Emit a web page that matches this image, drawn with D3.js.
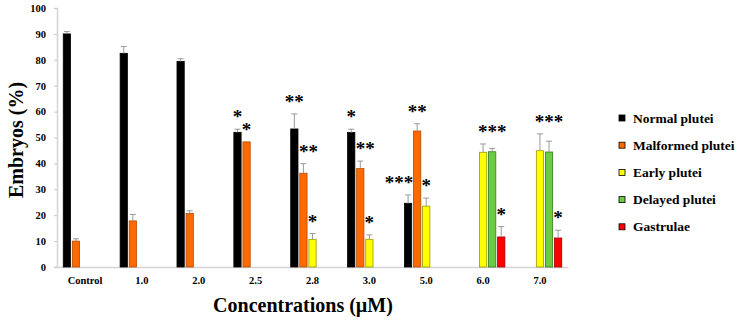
<!DOCTYPE html>
<html>
<head>
<meta charset="utf-8">
<script src="https://cdn.jsdelivr.net/npm/d3@7"></script>
<style>
  html, body { margin: 0; padding: 0; background: #ffffff; }
  svg { display: block; }
  text { font-family: "Liberation Serif", "Times New Roman", serif; }
</style>
</head>
<body>
<svg id="chart" width="744" height="324"></svg>
<script>
// values (percent of embryos, upper error bar)
const categories = ["Control", "1.0", "2.0", "2.5", "2.8", "3.0", "5.0", "6.0", "7.0"];
const seriesNames = ["Normal plutei", "Malformed plutei", "Early plutei", "Delayed plutei", "Gastrulae"];

const normalPlutei = [90, 82.5, 79.4, 52.0, 53.3, 51.9, 24.6, null, null];
const normalErr    = [0.9, 2.6, 1.0, 1.2, 5.8, 1.3, 3.2, null, null];
const malformedPlutei = [10.0, 17.8, 20.7, 48.3, 36.2, 38.0, 52.5, null, null];
const malformedErr    = [0.9, 2.5, 1.0, 0, 3.7, 2.9, 2.8, null, null];
const earlyPlutei = [null, null, null, null, 10.7, 10.7, 23.5, 44.3, 44.9];
const earlyErr    = [null, null, null, null, 2.2, 1.7, 3.1, 3.2, 6.5];
const delayedPlutei = [null, null, null, null, null, null, null, 44.5, 44.4];
const delayedErr    = [null, null, null, null, null, null, null, 1.3, 4.2];
const gastrulae    = [null, null, null, null, null, null, null, 11.6, 11.2];
const gastrulaeErr = [null, null, null, null, null, null, null, 4.0, 3.0];

const yTicks = [0, 10, 20, 30, 40, 50, 60, 70, 80, 90, 100];

// significance marks: [category, series, label]
const stars = [
    ["2.5", "Normal plutei", "*"], ["2.5", "Malformed plutei", "*"],
    ["2.8", "Normal plutei", "**"], ["2.8", "Malformed plutei", "**"], ["2.8", "Early plutei", "*"],
    ["3.0", "Normal plutei", "*"], ["3.0", "Malformed plutei", "**"], ["3.0", "Early plutei", "*"],
    ["5.0", "Normal plutei", "***"], ["5.0", "Malformed plutei", "**"], ["5.0", "Early plutei", "*"],
    ["6.0", "Early plutei", "***"], ["6.0", "Gastrulae", "*"],
    ["7.0", "Early plutei", "***"], ["7.0", "Gastrulae", "*"]
];

const seriesValues = [normalPlutei, malformedPlutei, earlyPlutei, delayedPlutei, gastrulae];
const seriesErrors = [normalErr, malformedErr, earlyErr, delayedErr, gastrulaeErr];

const fills   = ["#000000", "#ff6a00", "#ffff00", "#6ccc45", "#ff0000"];
const strokes = ["#000000", "#b24a00", "#9a9a00", "#2f7a1c", "#a00000"];
const FONT = "'Liberation Serif', 'Times New Roman', serif";

const svg = d3.select("#chart");

const x0 = d3.scaleBand()
    .domain(categories)
    .range([57, 568])
    .paddingInner(0.234)
    .paddingOuter(0.11);

const x1 = d3.scaleBand()
    .domain(seriesNames)
    .range([0, x0.bandwidth()])
    .paddingInner(0.2)
    .paddingOuter(0);

const y = d3.scaleLinear()
    .domain([0, 100])
    .range([267, 8]);

const rows = [];
categories.forEach((c, i) => {
    seriesNames.forEach((s, j) => {
        const v = seriesValues[j][i];
        if (v === null) return;
        rows.push({ cat: c, series: s, idx: j, value: v, err: seriesErrors[j][i] || 0 });
    });
});

// y axis
const yAxis = svg.append("g")
    .attr("transform", "translate(57,0)")
    .call(d3.axisLeft(y).tickValues(yTicks).tickSize(3).tickPadding(8));
yAxis.attr("font-family", FONT);
yAxis.select(".domain").attr("stroke", "#d4d4d4").attr("stroke-width", 1.5);
yAxis.selectAll(".tick line").attr("stroke", "#c8c8c8");
yAxis.selectAll(".tick text")
    .attr("fill", "#000")
    .style("font-family", FONT)
    .style("font-weight", 700)
    .style("font-size", "10.5px");

// x axis
const xAxis = svg.append("g")
    .attr("transform", "translate(0,267)")
    .call(d3.axisBottom(x0).tickSize(0).tickPadding(10));
xAxis.attr("font-family", FONT);
xAxis.select(".domain").attr("stroke", "#d4d4d4").attr("stroke-width", 1.5);
xAxis.selectAll(".tick text")
    .attr("fill", "#000")
    .style("font-family", FONT)
    .style("font-weight", 700)
    .style("font-size", "10.5px");

// bars
const bars = svg.append("g");
bars.selectAll("rect")
    .data(rows)
    .enter()
    .append("rect")
    .attr("x", d => x0(d.cat) + x1(d.series))
    .attr("y", d => y(d.value))
    .attr("width", x1.bandwidth())
    .attr("height", d => y(0) - y(d.value))
    .attr("fill", d => fills[d.idx])
    .attr("stroke", d => strokes[d.idx])
    .attr("stroke-width", 0.8);

// upper error bars
const errs = svg.append("g").attr("stroke", "#9a9a9a").attr("stroke-width", 1);
rows.filter(d => d.err > 0).forEach(d => {
    const cx = x0(d.cat) + x1(d.series) + x1.bandwidth() / 2;
    errs.append("line")
        .attr("x1", cx).attr("x2", cx)
        .attr("y1", y(d.value)).attr("y2", y(d.value + d.err));
    errs.append("line")
        .attr("x1", cx - 3).attr("x2", cx + 3)
        .attr("y1", y(d.value + d.err)).attr("y2", y(d.value + d.err));
});

// asterisks
function starX(cat, series, label) {
    let cx = x0(cat) + x1(series) + x1.bandwidth() / 2;
    if (label === "***" && series === "Early plutei") cx += x1.step();
    if (label === "***" && series === "Normal plutei") cx -= x1.step();
    if (label === "**" && series === "Malformed plutei" && cat !== "5.0") cx += 5;
    return cx;
}
function starTop(cat, series) {
    const r = rows.find(d => d.cat === cat && d.series === series);
    return y(r.value + r.err);
}
svg.append("g").selectAll("text")
    .data(stars)
    .enter()
    .append("text")
    .attr("x", d => starX(d[0], d[1], d[2]))
    .attr("y", d => starTop(d[0], d[1]) - 6)
    .attr("text-anchor", "middle")
    .style("font-family", FONT)
    .style("font-size", "19px")
    .style("font-weight", 700)
    .text(d => d[2]);

// axis titles
svg.append("text")
    .attr("transform", "translate(23,140) rotate(-90)")
    .attr("text-anchor", "middle")
    .style("font-family", FONT)
    .style("font-size", "20px")
    .style("font-weight", 700)
    .text("Embryos (%)");

svg.append("text")
    .attr("x", 303)
    .attr("y", 312)
    .attr("text-anchor", "middle")
    .style("font-family", FONT)
    .style("font-size", "20px")
    .style("font-weight", 700)
    .text("Concentrations (µM)");

// legend
const legend = svg.append("g").attr("transform", "translate(619,118)");
const item = legend.selectAll("g")
    .data(seriesNames)
    .enter()
    .append("g")
    .attr("transform", (d, i) => `translate(0,${i * 27.2})`);
item.append("rect")
    .attr("x", 0).attr("y", -3)
    .attr("width", 6).attr("height", 6)
    .attr("fill", (d, i) => fills[i])
    .attr("stroke", "#000")
    .attr("stroke-width", 0.8);
item.append("text")
    .attr("x", 14)
    .attr("y", 4.5)
    .style("font-family", FONT)
    .style("font-size", "13.5px")
    .style("font-weight", 700)
    .text(d => d);
</script>
</body>
</html>
